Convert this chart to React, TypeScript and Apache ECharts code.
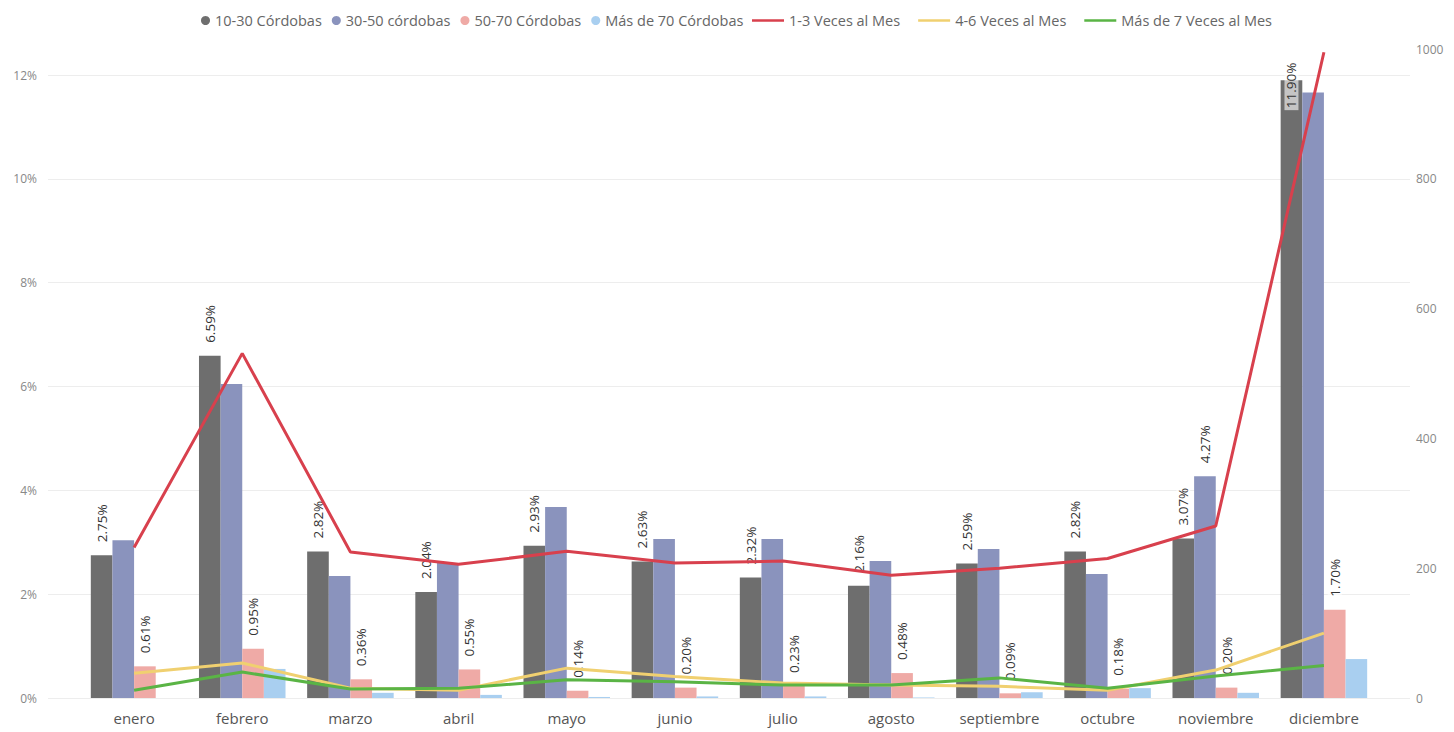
import { useEffect, useRef } from 'react';
import * as echarts from 'echarts';

// Months on the category axis
const months = [
  'enero', 'febrero', 'marzo', 'abril', 'mayo', 'junio',
  'julio', 'agosto', 'septiembre', 'octubre', 'noviembre', 'diciembre',
];

// Share of purchases by price range (%)
const tier10to30 = [2.75, 6.59, 2.82, 2.04, 2.93, 2.63, 2.32, 2.16, 2.59, 2.82, 3.07, 11.9];
const tier30to50 = [3.04, 6.05, 2.35, 2.6, 3.68, 3.06, 3.06, 2.64, 2.87, 2.39, 4.27, 11.66];
const tier50to70 = [0.61, 0.95, 0.36, 0.55, 0.14, 0.2, 0.23, 0.48, 0.09, 0.18, 0.2, 1.7];
const tierOver70 = [0, 0.56, 0.1, 0.06, 0.02, 0.03, 0.03, 0.01, 0.11, 0.19, 0.1, 0.75];

// Purchase frequency counts (right axis)
const freq1to3 = [232, 531, 225, 206, 226, 208, 211, 189, 200, 215, 265, 995];
const freq4to6 = [38, 54, 15, 12, 46, 33, 23, 20, 18, 12, 43, 100];
const freq7plus = [12, 40, 14, 15, 28, 25, 20, 20, 31, 15, 34, 50];

// Axis scales
const pctMax = 12;
const pctStep = 2;
const countMax = 1000;
const countStep = 200;

const barNames = ['10-30 Córdobas', '30-50 córdobas', '50-70 Córdobas', 'Más de 70 Córdobas'];
const lineNames = ['1-3 Veces al Mes', '4-6 Veces al Mes', 'Más de 7 Veces al Mes'];

const FONT = '"Open Sans", "Noto Sans", sans-serif';

const valueLabel = {
  show: true,
  position: 'top' as const,
  distance: 11,
  rotate: 90,
  align: 'left' as const,
  verticalAlign: 'middle' as const,
  formatter: (p: any) => `${Number(p.value).toFixed(2)}%`,
  fontFamily: FONT,
  fontSize: 13.5,
  color: '#333',
  backgroundColor: 'rgba(255,255,255,0.6)',
  padding: [0, 2],
};

const legendText = { color: '#666', fontSize: 14.5, fontFamily: FONT };

export default function App() {
  const ref = useRef<HTMLDivElement>(null);

  useEffect(() => {
    if (!ref.current) return;
    const chart = echarts.init(ref.current, undefined, { renderer: 'svg' });

    // Last month's label sits over the bar top so it stays in the plot
    const darkData = tier10to30.map((v, i) =>
      i === tier10to30.length - 1
        ? { value: v, label: { position: 'insideTop', distance: 30 } }
        : v
    );
    // Only November's 30-50 bar carries a label
    const blueData = tier30to50.map((v, i) =>
      i === 10 ? { value: v, label: { show: true } } : v
    );

    chart.setOption({
      animation: false,
      backgroundColor: '#ffffff',
      textStyle: { fontFamily: FONT },
      legend: [
        {
          data: barNames,
          left: 196,
          top: 8,
          icon: 'circle',
          itemWidth: 9,
          itemHeight: 9,
          itemGap: 10,
          textStyle: legendText,
        },
        {
          data: lineNames,
          left: 747,
          top: 8,
          icon: 'rect',
          itemWidth: 32,
          itemHeight: 2.5,
          itemGap: 18,
          textStyle: legendText,
        },
      ],
      grid: [
        // Percentage gridlines across the full width
        { left: 48, right: 44, top: 75, bottom: 34 },
        // Plot area for bars and lines
        { left: 80, right: 76, top: 49, bottom: 34 },
      ],
      xAxis: [
        { gridIndex: 0, type: 'value', show: false },
        {
          gridIndex: 1,
          type: 'category',
          data: months,
          axisLine: { show: false },
          axisTick: { show: false },
          axisLabel: { color: '#555', fontSize: 15, margin: 12, fontFamily: FONT },
        },
      ],
      yAxis: [
        {
          gridIndex: 0,
          type: 'value',
          min: 0,
          max: pctMax,
          interval: pctStep,
          axisLine: { show: false },
          axisTick: { show: false },
          axisLabel: { formatter: '{value}%', color: '#888', fontSize: 12, margin: 11, fontFamily: FONT },
          splitLine: { lineStyle: { color: '#ededed', width: 1 } },
        },
        {
          gridIndex: 1,
          type: 'value',
          min: 0,
          max: pctMax + pctStep / 4,
          show: false,
        },
        {
          gridIndex: 1,
          type: 'value',
          position: 'right',
          min: 0,
          max: countMax,
          interval: countStep,
          axisLine: { show: false },
          axisTick: { show: false },
          splitLine: { show: false },
          axisLabel: {
            formatter: (v: number) => String(v),
            color: '#888',
            fontSize: 12,
            margin: 38,
            fontFamily: FONT,
          },
        },
      ],
      series: [
        {
          name: barNames[0],
          type: 'bar',
          xAxisIndex: 1,
          yAxisIndex: 1,
          data: darkData,
          barGap: '0%',
          barCategoryGap: '20%',
          itemStyle: { color: '#6e6e6e' },
          label: valueLabel,
        },
        {
          name: barNames[1],
          type: 'bar',
          xAxisIndex: 1,
          yAxisIndex: 1,
          data: blueData,
          itemStyle: { color: '#8a93bd' },
          label: { ...valueLabel, show: false },
        },
        {
          name: barNames[2],
          type: 'bar',
          xAxisIndex: 1,
          yAxisIndex: 1,
          data: tier50to70,
          itemStyle: { color: '#efaaa6' },
          label: valueLabel,
        },
        {
          name: barNames[3],
          type: 'bar',
          xAxisIndex: 1,
          yAxisIndex: 1,
          data: tierOver70,
          itemStyle: { color: '#a9cff0' },
        },
        {
          name: lineNames[0],
          type: 'line',
          xAxisIndex: 1,
          yAxisIndex: 2,
          data: freq1to3,
          symbol: 'none',
          lineStyle: { color: '#d8404d', width: 3 },
          itemStyle: { color: '#d8404d' },
          z: 5,
        },
        {
          name: lineNames[1],
          type: 'line',
          xAxisIndex: 1,
          yAxisIndex: 2,
          data: freq4to6,
          symbol: 'none',
          lineStyle: { color: '#f0d070', width: 3 },
          itemStyle: { color: '#f0d070' },
          z: 5,
        },
        {
          name: lineNames[2],
          type: 'line',
          xAxisIndex: 1,
          yAxisIndex: 2,
          data: freq7plus,
          symbol: 'none',
          lineStyle: { color: '#5ab445', width: 3 },
          itemStyle: { color: '#5ab445' },
          z: 5,
        },
      ],
    });

    return () => chart.dispose();
  }, []);

  return <div ref={ref} style={{ width: 1454, height: 732, position: 'absolute', left: 0, top: 0 }} />;
}
